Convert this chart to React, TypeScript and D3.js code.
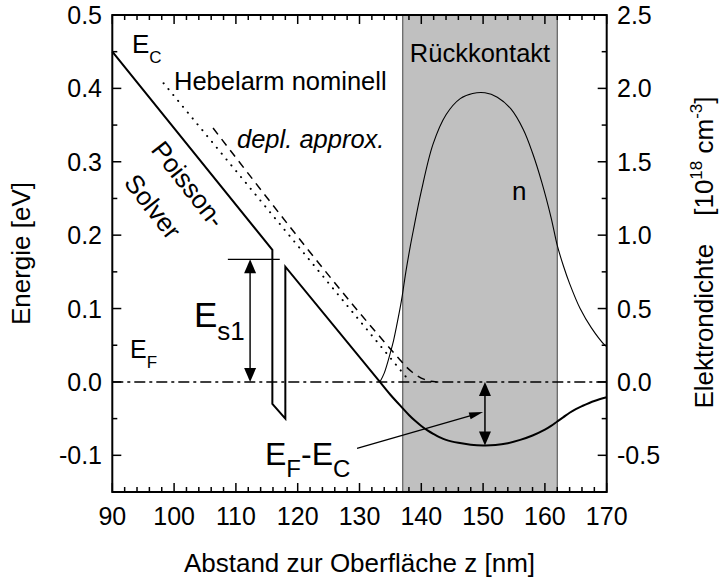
import React from 'react';
import * as d3 from 'd3';

// ---------- data ----------
const xTickValues = [90, 100, 110, 120, 130, 140, 150, 160, 170];
const leftTickValues = [-0.1, 0.0, 0.1, 0.2, 0.3, 0.4, 0.5];
const rightTickValues = [-0.5, 0.0, 0.5, 1.0, 1.5, 2.0, 2.5];

// Poisson-Solver conduction band edge (nm, eV)
const poissonLinear: [number, number][] = [
  [90, 0.45], [115.9, 0.18], [115.9, -0.03], [118, -0.05], [118, 0.157], [133.3, 0],
];
const poissonTail: [number, number][] = [
  [133.3, 0], [135, -0.0175], [137, -0.036], [138, -0.045], [139, -0.053], [140, -0.06],
  [141, -0.066], [142, -0.071], [143, -0.0755], [144, -0.079], [146, -0.083], [148, -0.0855],
  [150, -0.0865], [152, -0.086], [154, -0.0835], [156, -0.079], [158, -0.073], [160, -0.065],
  [161, -0.06], [162, -0.054], [163, -0.048], [164, -0.042], [165, -0.037], [166, -0.033],
  [168, -0.026], [170, -0.021],
];
// Hebelarm nominell (dotted)
const hebelarm: [number, number][] = [[98.3, 0.407], [138.2, 0]];
// depletion approximation (dashed)
const deplApprox: [number, number][] = [
  [106.3, 0.346], [136.3, 0.0325], [137.5, 0.0211], [138.5, 0.0135], [139.5, 0.0076],
  [140.5, 0.0034], [141.5, 0.0008], [142.5, 0],
];
// electron density n (10^18 cm^-3), right axis
const nDensity: [number, number][] = [
  [133.3, 0], [134, 0.06], [135, 0.2], [135.5, 0.28], [136, 0.38], [136.8, 0.557], [137.5, 0.75],
  [138.2, 0.92], [138.7, 1.03], [140, 1.3], [141.9, 1.62], [144, 1.82], [146.3, 1.93], [148.3, 1.965],
  [150.3, 1.97], [152.3, 1.94], [154.5, 1.86], [156.5, 1.72], [158, 1.56], [159.5, 1.36],
  [161, 1.12], [162, 0.93], [163, 0.79], [164, 0.67], [165.7, 0.5], [167.5, 0.37], [169.7, 0.25],
  [170, 0.24],
];
const contactRange: [number, number] = [137, 162];
const es1Arrow = { x: 112.3, top: 0.167, bottom: 0, lineFrom: 108.7, lineTo: 117.1 };
const efecArrow = { x: 150.3, top: 0, bottom: -0.0865 };
const pointer = { from: [129.6, -0.0905] as [number, number], to: [150, -0.041] as [number, number] };

// ---------- layout ----------
const W = 719, H = 577;
const L = 112.3, R = 606.7, T = 15, B = 492;
const FONT = '"Liberation Sans", Arial, Helvetica, sans-serif';

const x = d3.scaleLinear().domain([90, 170]).range([L, R]);
const y = d3.scaleLinear().domain([-0.15, 0.5]).range([B, T]);
const yR = d3.scaleLinear().domain([-0.75, 2.5]).range([B, T]);

const lineL = d3.line<[number, number]>().x(d => x(d[0])).y(d => y(d[1]));
const lineSmooth = d3.line<[number, number]>().x(d => x(d[0])).y(d => y(d[1])).curve(d3.curveMonotoneX);
const lineCR = d3.line<[number, number]>().x(d => x(d[0])).y(d => y(d[1])).curve(d3.curveCatmullRom);
const lineN = d3.line<[number, number]>().x(d => x(d[0])).y(d => yR(d[1])).curve(d3.curveCatmullRom);

function head(tx: number, ty: number, fx: number, fy: number, len: number, hw: number) {
  const dx = tx - fx, dy = ty - fy;
  const m = Math.hypot(dx, dy);
  const ux = dx / m, uy = dy / m;
  const bx = tx - ux * len, by = ty - uy * len;
  const px = -uy * hw, py = ux * hw;
  return `${tx},${ty} ${bx + px},${by + py} ${bx - px},${by - py}`;
}

export default function App() {
  const xMinor = d3.range(90, 170.01, 2).filter(v => Math.abs(v % 10) > 0.01);
  const leftMinor = d3.range(-0.15, 0.5001, 0.05).filter(v => v > -0.149 && Math.abs(Math.round(v * 10) - v * 10) > 0.01);
  const rightMinor = d3.range(-0.75, 2.5001, 0.25).filter(v => v > -0.749 && Math.abs(Math.round(v * 2) - v * 2) > 0.01);

  const majorLen = 9, minorLen = 5;

  const es1x = x(es1Arrow.x);
  const es1Top = y(es1Arrow.top), es1Bot = y(es1Arrow.bottom);
  const ecx = x(efecArrow.x);
  const ecTop = y(efecArrow.top), ecBot = y(efecArrow.bottom);
  const pf = [x(pointer.from[0]), y(pointer.from[1])];
  const pt = [x(pointer.to[0]), y(pointer.to[1])];

  return (
    <svg width={W} height={H} style={{ position: 'absolute', left: 0, top: 0, background: '#fff' }}
      fontFamily={FONT}>
      {/* shaded back contact */}
      <rect x={x(contactRange[0])} y={T} width={x(contactRange[1]) - x(contactRange[0])} height={B - T}
        fill="#c0c0c0" />
      <line x1={x(contactRange[0])} x2={x(contactRange[0])} y1={T} y2={B} stroke="#444" strokeWidth={1} />
      <line x1={x(contactRange[1])} x2={x(contactRange[1])} y1={T} y2={B} stroke="#444" strokeWidth={1} />

      {/* zero line E_F */}
      <line x1={L} x2={R} y1={y(0)} y2={y(0)} stroke="#000" strokeWidth={1.5} strokeDasharray="11,4,3,4" />

      {/* curves */}
      <path d={lineL(hebelarm) || ''} fill="none" stroke="#000" strokeWidth={2} strokeDasharray="0.1,7.5" strokeLinecap="round" />
      <path d={lineSmooth(deplApprox) || ''} fill="none" stroke="#000" strokeWidth={1.5} strokeDasharray="8,6" />
      <path d={lineN(nDensity) || ''} fill="none" stroke="#000" strokeWidth={1.1} />
      <path d={lineL(poissonLinear) || ''} fill="none" stroke="#000" strokeWidth={2} strokeLinejoin="miter" />
      <path d={lineCR(poissonTail) || ''} fill="none" stroke="#000" strokeWidth={2} />

      {/* E_s1 arrow */}
      <line x1={x(es1Arrow.lineFrom)} x2={x(es1Arrow.lineTo)} y1={es1Top} y2={es1Top} stroke="#000" strokeWidth={1.2} />
      <line x1={es1x} x2={es1x} y1={es1Top + 10} y2={es1Bot - 10} stroke="#333" strokeWidth={1.8} />
      <polygon points={head(es1x, es1Top, es1x, es1Bot, 14, 6)} fill="#000" />
      <polygon points={head(es1x, es1Bot, es1x, es1Top, 14, 6)} fill="#000" />

      {/* E_F - E_C arrow */}
      <line x1={ecx} x2={ecx} y1={ecTop + 10} y2={ecBot - 10} stroke="#000" strokeWidth={1.5} />
      <polygon points={head(ecx, ecTop, ecx, ecBot, 14, 6)} fill="#000" />
      <polygon points={head(ecx, ecBot, ecx, ecTop, 14, 6)} fill="#000" />

      {/* pointer arrow */}
      <line x1={pf[0]} y1={pf[1]} x2={pt[0] - 8} y2={pt[1] + 2.3} stroke="#000" strokeWidth={1.2} />
      <polygon points={head(pt[0], pt[1], pf[0], pf[1], 14, 3.5)} fill="#000" />

      {/* frame */}
      <rect x={L} y={T} width={R - L} height={B - T} fill="none" stroke="#000" strokeWidth={2} />

      {/* x ticks (bottom & top) */}
      {xTickValues.map(v => (
        <g key={'xt' + v}>
          <line x1={x(v)} x2={x(v)} y1={B} y2={B - majorLen} stroke="#000" strokeWidth={1.5} />
          <line x1={x(v)} x2={x(v)} y1={T} y2={T + majorLen} stroke="#000" strokeWidth={1.5} />
          <text x={x(v)} y={525} fontSize={25} textAnchor="middle">{v}</text>
        </g>
      ))}
      {xMinor.map(v => (
        <g key={'xm' + v}>
          <line x1={x(v)} x2={x(v)} y1={B} y2={B - minorLen} stroke="#000" strokeWidth={1.5} />
          <line x1={x(v)} x2={x(v)} y1={T} y2={T + minorLen} stroke="#000" strokeWidth={1.5} />
        </g>
      ))}

      {/* left ticks */}
      {leftTickValues.map(v => (
        <g key={'lt' + v}>
          <line x1={L} x2={L + majorLen} y1={y(v)} y2={y(v)} stroke="#000" strokeWidth={1.5} />
          <text x={102} y={y(v) + 9} fontSize={25} textAnchor="end">{v.toFixed(1)}</text>
        </g>
      ))}
      {leftMinor.map(v => (
        <line key={'lm' + v} x1={L} x2={L + minorLen} y1={y(v)} y2={y(v)} stroke="#000" strokeWidth={1.5} />
      ))}

      {/* right ticks */}
      {rightTickValues.map(v => (
        <g key={'rt' + v}>
          <line x1={R} x2={R - majorLen} y1={yR(v)} y2={yR(v)} stroke="#000" strokeWidth={1.5} />
          <text x={617} y={yR(v) + 9} fontSize={25} textAnchor="start">{v.toFixed(1)}</text>
        </g>
      ))}
      {rightMinor.map(v => (
        <line key={'rm' + v} x1={R} x2={R - minorLen} y1={yR(v)} y2={yR(v)} stroke="#000" strokeWidth={1.5} />
      ))}

      {/* axis titles */}
      <text x={(L + R) / 2} y={572} fontSize={26} textAnchor="middle">Abstand zur Oberfläche z [nm]</text>
      <text transform={`translate(30, ${(T + B) / 2}) rotate(-90)`} fontSize={26} textAnchor="middle">Energie [eV]</text>
      <text transform={`translate(713, ${(T + B) / 2 - 1}) rotate(-90)`} fontSize={26} textAnchor="middle">
        <tspan>Elektrondichte</tspan>
        <tspan dx={28}>[10</tspan>
        <tspan fontSize={17} dy={-11}>18</tspan>
        <tspan dy={11}> cm</tspan>
        <tspan fontSize={17} dy={-11}>-3</tspan>
        <tspan dy={11}>]</tspan>
      </text>

      {/* annotations */}
      <text x={132} y={53} fontSize={26}>E<tspan fontSize={17} dy={10}>C</tspan></text>
      <text x={174} y={90} fontSize={25.5}>Hebelarm nominell</text>
      <text x={237} y={148} fontSize={25.5} fontStyle="italic">depl. approx.</text>
      <text transform="translate(150,150) rotate(52)" fontSize={26}>Poisson-</text>
      <text transform="translate(123,183) rotate(52)" fontSize={26}>Solver</text>
      <text x={480} y={62} fontSize={25.5} textAnchor="middle">Rückkontakt</text>
      <text x={512} y={200} fontSize={26}>n</text>
      <text x={194} y={327} fontSize={35}>E<tspan fontSize={26} dy={13}>s1</tspan></text>
      <text x={130} y={358} fontSize={25}>E<tspan fontSize={17} dy={10}>F</tspan></text>
      <text x={265} y={465} fontSize={32}>
        E<tspan fontSize={24} dy={12}>F</tspan><tspan dy={-12}>-E</tspan><tspan fontSize={24} dy={12}>C</tspan>
      </text>
    </svg>
  );
}
